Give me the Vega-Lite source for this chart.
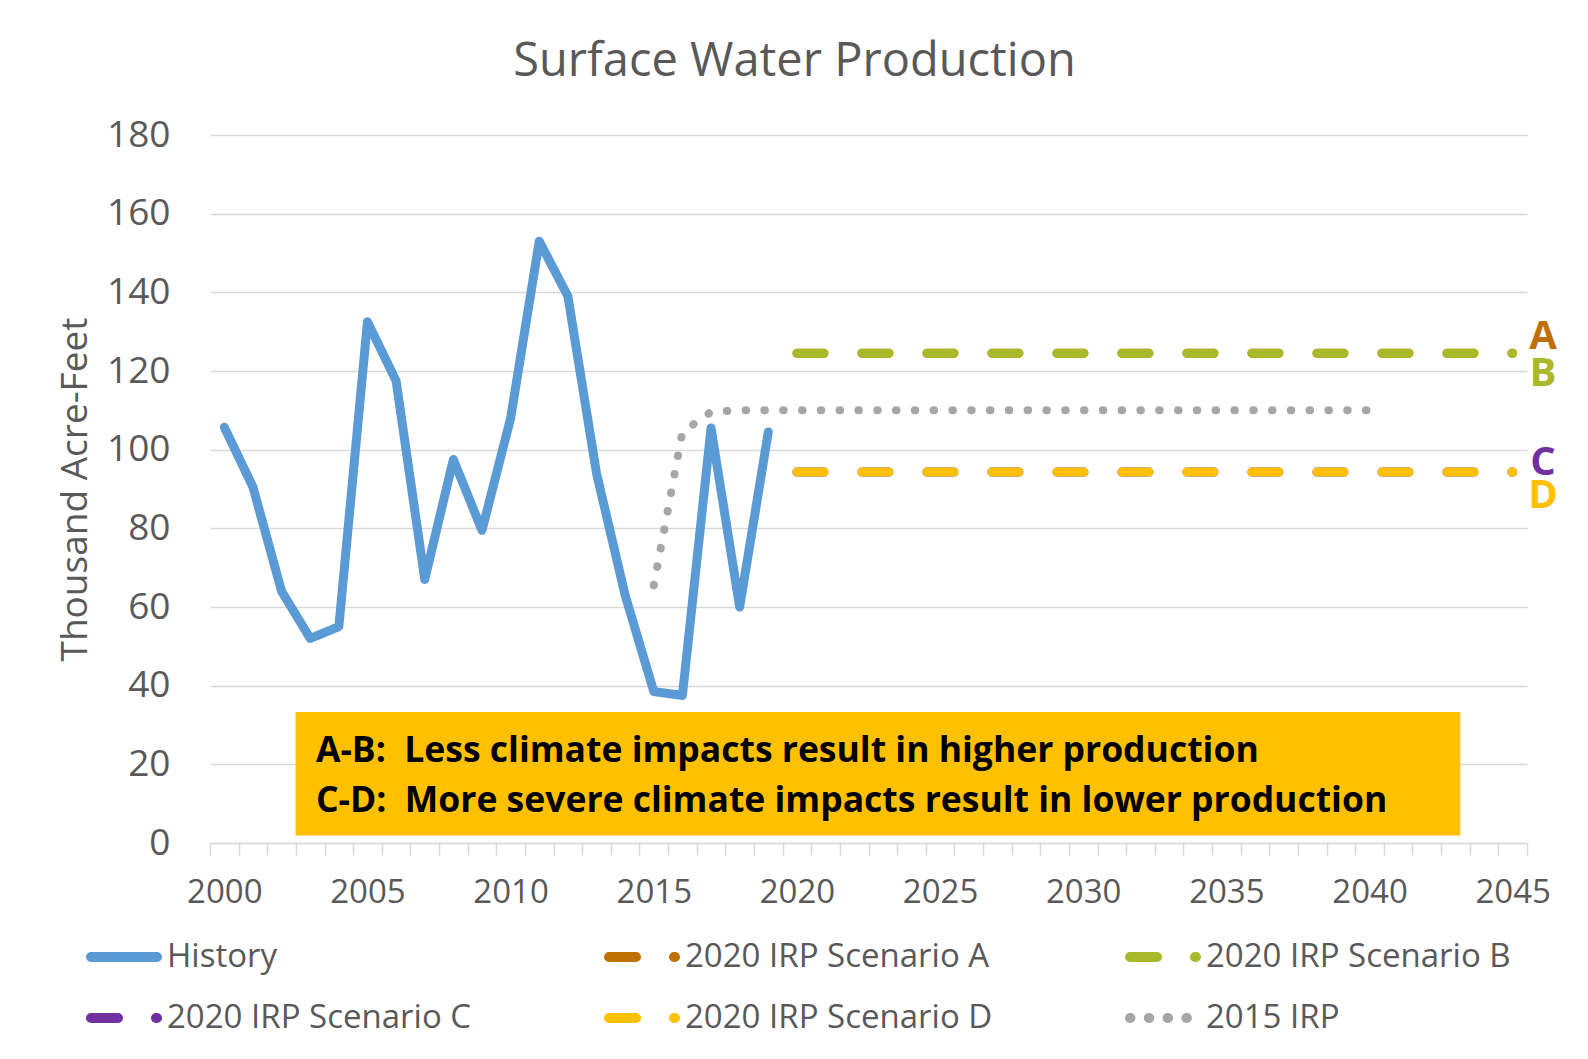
{
  "$schema": "https://vega.github.io/schema/vega-lite/v6.json",
  "width": 1317,
  "height": 708,
  "autosize": {"type": "none"},
  "padding": {"left": 210, "top": 135, "right": 61, "bottom": 216},
  "background": "#ffffff",
  "config": {"font": "Open Sans", "view": {"stroke": null}, "axisX": {"labelOverlap": false}},
  "title": {"text": "Surface Water Production", "fontSize": 47, "font": "Open Sans", "fontWeight": "normal", "color": "#595959", "anchor": "middle", "dx": -74, "offset": 30},
  "datasets": {
    "series": [
      {"series": "History", "year": 2000, "value": 105.7},
      {"series": "History", "year": 2001, "value": 90.5},
      {"series": "History", "year": 2002, "value": 64},
      {"series": "History", "year": 2003, "value": 52},
      {"series": "History", "year": 2004, "value": 55},
      {"series": "History", "year": 2005, "value": 132.5},
      {"series": "History", "year": 2006, "value": 117.5},
      {"series": "History", "year": 2007, "value": 67},
      {"series": "History", "year": 2008, "value": 97.5},
      {"series": "History", "year": 2009, "value": 79.5},
      {"series": "History", "year": 2010, "value": 108},
      {"series": "History", "year": 2011, "value": 153},
      {"series": "History", "year": 2012, "value": 139},
      {"series": "History", "year": 2013, "value": 94},
      {"series": "History", "year": 2014, "value": 63},
      {"series": "History", "year": 2015, "value": 38.5},
      {"series": "History", "year": 2016, "value": 37.5},
      {"series": "History", "year": 2017, "value": 105.5},
      {"series": "History", "year": 2018, "value": 60},
      {"series": "History", "year": 2019, "value": 104.5},
      {"series": "2020 IRP Scenario A", "year": 2020, "value": 124.5},
      {"series": "2020 IRP Scenario A", "year": 2021, "value": 124.5},
      {"series": "2020 IRP Scenario A", "year": 2022, "value": 124.5},
      {"series": "2020 IRP Scenario A", "year": 2023, "value": 124.5},
      {"series": "2020 IRP Scenario A", "year": 2024, "value": 124.5},
      {"series": "2020 IRP Scenario A", "year": 2025, "value": 124.5},
      {"series": "2020 IRP Scenario A", "year": 2026, "value": 124.5},
      {"series": "2020 IRP Scenario A", "year": 2027, "value": 124.5},
      {"series": "2020 IRP Scenario A", "year": 2028, "value": 124.5},
      {"series": "2020 IRP Scenario A", "year": 2029, "value": 124.5},
      {"series": "2020 IRP Scenario A", "year": 2030, "value": 124.5},
      {"series": "2020 IRP Scenario A", "year": 2031, "value": 124.5},
      {"series": "2020 IRP Scenario A", "year": 2032, "value": 124.5},
      {"series": "2020 IRP Scenario A", "year": 2033, "value": 124.5},
      {"series": "2020 IRP Scenario A", "year": 2034, "value": 124.5},
      {"series": "2020 IRP Scenario A", "year": 2035, "value": 124.5},
      {"series": "2020 IRP Scenario A", "year": 2036, "value": 124.5},
      {"series": "2020 IRP Scenario A", "year": 2037, "value": 124.5},
      {"series": "2020 IRP Scenario A", "year": 2038, "value": 124.5},
      {"series": "2020 IRP Scenario A", "year": 2039, "value": 124.5},
      {"series": "2020 IRP Scenario A", "year": 2040, "value": 124.5},
      {"series": "2020 IRP Scenario A", "year": 2041, "value": 124.5},
      {"series": "2020 IRP Scenario A", "year": 2042, "value": 124.5},
      {"series": "2020 IRP Scenario A", "year": 2043, "value": 124.5},
      {"series": "2020 IRP Scenario A", "year": 2044, "value": 124.5},
      {"series": "2020 IRP Scenario A", "year": 2045, "value": 124.5},
      {"series": "2020 IRP Scenario B", "year": 2020, "value": 124.5},
      {"series": "2020 IRP Scenario B", "year": 2021, "value": 124.5},
      {"series": "2020 IRP Scenario B", "year": 2022, "value": 124.5},
      {"series": "2020 IRP Scenario B", "year": 2023, "value": 124.5},
      {"series": "2020 IRP Scenario B", "year": 2024, "value": 124.5},
      {"series": "2020 IRP Scenario B", "year": 2025, "value": 124.5},
      {"series": "2020 IRP Scenario B", "year": 2026, "value": 124.5},
      {"series": "2020 IRP Scenario B", "year": 2027, "value": 124.5},
      {"series": "2020 IRP Scenario B", "year": 2028, "value": 124.5},
      {"series": "2020 IRP Scenario B", "year": 2029, "value": 124.5},
      {"series": "2020 IRP Scenario B", "year": 2030, "value": 124.5},
      {"series": "2020 IRP Scenario B", "year": 2031, "value": 124.5},
      {"series": "2020 IRP Scenario B", "year": 2032, "value": 124.5},
      {"series": "2020 IRP Scenario B", "year": 2033, "value": 124.5},
      {"series": "2020 IRP Scenario B", "year": 2034, "value": 124.5},
      {"series": "2020 IRP Scenario B", "year": 2035, "value": 124.5},
      {"series": "2020 IRP Scenario B", "year": 2036, "value": 124.5},
      {"series": "2020 IRP Scenario B", "year": 2037, "value": 124.5},
      {"series": "2020 IRP Scenario B", "year": 2038, "value": 124.5},
      {"series": "2020 IRP Scenario B", "year": 2039, "value": 124.5},
      {"series": "2020 IRP Scenario B", "year": 2040, "value": 124.5},
      {"series": "2020 IRP Scenario B", "year": 2041, "value": 124.5},
      {"series": "2020 IRP Scenario B", "year": 2042, "value": 124.5},
      {"series": "2020 IRP Scenario B", "year": 2043, "value": 124.5},
      {"series": "2020 IRP Scenario B", "year": 2044, "value": 124.5},
      {"series": "2020 IRP Scenario B", "year": 2045, "value": 124.5},
      {"series": "2020 IRP Scenario C", "year": 2020, "value": 94.3},
      {"series": "2020 IRP Scenario C", "year": 2021, "value": 94.3},
      {"series": "2020 IRP Scenario C", "year": 2022, "value": 94.3},
      {"series": "2020 IRP Scenario C", "year": 2023, "value": 94.3},
      {"series": "2020 IRP Scenario C", "year": 2024, "value": 94.3},
      {"series": "2020 IRP Scenario C", "year": 2025, "value": 94.3},
      {"series": "2020 IRP Scenario C", "year": 2026, "value": 94.3},
      {"series": "2020 IRP Scenario C", "year": 2027, "value": 94.3},
      {"series": "2020 IRP Scenario C", "year": 2028, "value": 94.3},
      {"series": "2020 IRP Scenario C", "year": 2029, "value": 94.3},
      {"series": "2020 IRP Scenario C", "year": 2030, "value": 94.3},
      {"series": "2020 IRP Scenario C", "year": 2031, "value": 94.3},
      {"series": "2020 IRP Scenario C", "year": 2032, "value": 94.3},
      {"series": "2020 IRP Scenario C", "year": 2033, "value": 94.3},
      {"series": "2020 IRP Scenario C", "year": 2034, "value": 94.3},
      {"series": "2020 IRP Scenario C", "year": 2035, "value": 94.3},
      {"series": "2020 IRP Scenario C", "year": 2036, "value": 94.3},
      {"series": "2020 IRP Scenario C", "year": 2037, "value": 94.3},
      {"series": "2020 IRP Scenario C", "year": 2038, "value": 94.3},
      {"series": "2020 IRP Scenario C", "year": 2039, "value": 94.3},
      {"series": "2020 IRP Scenario C", "year": 2040, "value": 94.3},
      {"series": "2020 IRP Scenario C", "year": 2041, "value": 94.3},
      {"series": "2020 IRP Scenario C", "year": 2042, "value": 94.3},
      {"series": "2020 IRP Scenario C", "year": 2043, "value": 94.3},
      {"series": "2020 IRP Scenario C", "year": 2044, "value": 94.3},
      {"series": "2020 IRP Scenario C", "year": 2045, "value": 94.3},
      {"series": "2020 IRP Scenario D", "year": 2020, "value": 94.3},
      {"series": "2020 IRP Scenario D", "year": 2021, "value": 94.3},
      {"series": "2020 IRP Scenario D", "year": 2022, "value": 94.3},
      {"series": "2020 IRP Scenario D", "year": 2023, "value": 94.3},
      {"series": "2020 IRP Scenario D", "year": 2024, "value": 94.3},
      {"series": "2020 IRP Scenario D", "year": 2025, "value": 94.3},
      {"series": "2020 IRP Scenario D", "year": 2026, "value": 94.3},
      {"series": "2020 IRP Scenario D", "year": 2027, "value": 94.3},
      {"series": "2020 IRP Scenario D", "year": 2028, "value": 94.3},
      {"series": "2020 IRP Scenario D", "year": 2029, "value": 94.3},
      {"series": "2020 IRP Scenario D", "year": 2030, "value": 94.3},
      {"series": "2020 IRP Scenario D", "year": 2031, "value": 94.3},
      {"series": "2020 IRP Scenario D", "year": 2032, "value": 94.3},
      {"series": "2020 IRP Scenario D", "year": 2033, "value": 94.3},
      {"series": "2020 IRP Scenario D", "year": 2034, "value": 94.3},
      {"series": "2020 IRP Scenario D", "year": 2035, "value": 94.3},
      {"series": "2020 IRP Scenario D", "year": 2036, "value": 94.3},
      {"series": "2020 IRP Scenario D", "year": 2037, "value": 94.3},
      {"series": "2020 IRP Scenario D", "year": 2038, "value": 94.3},
      {"series": "2020 IRP Scenario D", "year": 2039, "value": 94.3},
      {"series": "2020 IRP Scenario D", "year": 2040, "value": 94.3},
      {"series": "2020 IRP Scenario D", "year": 2041, "value": 94.3},
      {"series": "2020 IRP Scenario D", "year": 2042, "value": 94.3},
      {"series": "2020 IRP Scenario D", "year": 2043, "value": 94.3},
      {"series": "2020 IRP Scenario D", "year": 2044, "value": 94.3},
      {"series": "2020 IRP Scenario D", "year": 2045, "value": 94.3},
      {"series": "2015 IRP", "year": 2015, "value": 65.5},
      {"series": "2015 IRP", "year": 2016, "value": 104.5},
      {"series": "2015 IRP", "year": 2017, "value": 109.6},
      {"series": "2015 IRP", "year": 2018, "value": 110},
      {"series": "2015 IRP", "year": 2019, "value": 110},
      {"series": "2015 IRP", "year": 2020, "value": 110},
      {"series": "2015 IRP", "year": 2021, "value": 110},
      {"series": "2015 IRP", "year": 2022, "value": 110},
      {"series": "2015 IRP", "year": 2023, "value": 110},
      {"series": "2015 IRP", "year": 2024, "value": 110},
      {"series": "2015 IRP", "year": 2025, "value": 110},
      {"series": "2015 IRP", "year": 2026, "value": 110},
      {"series": "2015 IRP", "year": 2027, "value": 110},
      {"series": "2015 IRP", "year": 2028, "value": 110},
      {"series": "2015 IRP", "year": 2029, "value": 110},
      {"series": "2015 IRP", "year": 2030, "value": 110},
      {"series": "2015 IRP", "year": 2031, "value": 110},
      {"series": "2015 IRP", "year": 2032, "value": 110},
      {"series": "2015 IRP", "year": 2033, "value": 110},
      {"series": "2015 IRP", "year": 2034, "value": 110},
      {"series": "2015 IRP", "year": 2035, "value": 110},
      {"series": "2015 IRP", "year": 2036, "value": 110},
      {"series": "2015 IRP", "year": 2037, "value": 110},
      {"series": "2015 IRP", "year": 2038, "value": 110},
      {"series": "2015 IRP", "year": 2039, "value": 110},
      {"series": "2015 IRP", "year": 2040, "value": 110}
    ],
    "box": [{"year": 2002.49, "year2": 2043.17, "value": 1.9, "value2": 33.3}],
    "notes": [
      {"year": 2003.2, "value": 20.67, "text": "A-B: \u00a0Less climate impacts result in higher production"},
      {"year": 2003.2, "value": 7.96, "text": "C-D: \u00a0More severe climate impacts result in lower production"}
    ],
    "letters": [
      {"letter": "A", "series": "2020 IRP Scenario A", "year": 2046.06, "value": 125.5},
      {"letter": "B", "series": "2020 IRP Scenario B", "year": 2046.06, "value": 116.2},
      {"letter": "C", "series": "2020 IRP Scenario C", "year": 2046.06, "value": 93.6},
      {"letter": "D", "series": "2020 IRP Scenario D", "year": 2046.06, "value": 85.2}
    ]
  },
  "encoding": {
    "x": {
      "field": "year", "type": "quantitative",
      "scale": {"domain": [1999.5, 2045.5], "nice": false, "zero": false},
      "axis": {
        "title": null,
        "values": [1999.5, 2000.5, 2001.5, 2002.5, 2003.5, 2004.5, 2005.5, 2006.5, 2007.5, 2008.5, 2009.5, 2010.5, 2011.5, 2012.5, 2013.5, 2014.5, 2015.5, 2016.5, 2017.5, 2018.5, 2019.5, 2020.5, 2021.5, 2022.5, 2023.5, 2024.5, 2025.5, 2026.5, 2027.5, 2028.5, 2029.5, 2030.5, 2031.5, 2032.5, 2033.5, 2034.5, 2035.5, 2036.5, 2037.5, 2038.5, 2039.5, 2040.5, 2041.5, 2042.5, 2043.5, 2044.5, 2045.5],
        "labelExpr": "(datum.value + 0.5) % 5 === 0 ? toString(datum.value + 0.5) : ''",
        "labelOffset": 14.3,
        "labelFlush": false,
        "labelOverlap": false,
        "labelBound": false,
        "labelFont": "Open Sans",
        "labelFontSize": 33,
        "labelColor": "#595959",
        "labelPadding": 21,
        "grid": false,
        "domainColor": "#D9D9D9",
        "domainWidth": 1.5,
        "tickColor": "#D9D9D9",
        "tickWidth": 1.5,
        "tickSize": 12
      }
    },
    "y": {
      "field": "value", "type": "quantitative",
      "scale": {"domain": [0, 180], "nice": false},
      "axis": {
        "title": "Thousand Acre-Feet",
        "titleFont": "Open Sans",
        "titleFontSize": 37,
        "titleFontWeight": "normal",
        "titleColor": "#595959",
        "titlePadding": 12,
        "values": [0, 20, 40, 60, 80, 100, 120, 140, 160, 180],
        "domain": false,
        "ticks": false,
        "grid": true,
        "gridColor": "#D9D9D9",
        "gridWidth": 1.5,
        "labelFont": "Open Sans",
        "labelFontSize": 37,
        "labelColor": "#595959",
        "labelPadding": 40
      }
    }
  },
  "layer": [
    {
      "data": {"name": "series"},
      "encoding": {
        "color": {
          "field": "series", "type": "nominal",
          "scale": {
            "domain": ["History", "2020 IRP Scenario A", "2020 IRP Scenario B", "2020 IRP Scenario C", "2020 IRP Scenario D", "2015 IRP"],
            "range": ["#5B9BD5", "#BF7000", "#A9B92A", "#7030A0", "#FFC000", "#A6A6A6"]
          },
          "legend": {
            "title": null,
            "orient": "none",
            "legendX": -124,
            "legendY": 784,
            "direction": "horizontal",
            "columns": 3,
            "padding": 0,
            "symbolType": "stroke",
            "symbolSize": 4356,
            "symbolStrokeWidth": 10,
            "labelFont": "Open Sans",
            "labelFontSize": 33,
            "labelColor": "#595959",
            "labelOffset": 5,
            "labelLimit": 500,
            "columnPadding": 117,
            "rowPadding": 3,
            "encode": {"symbols": {"update": {"strokeCap": {"value": "round"}}}}
          }
        },
        "strokeDash": {
          "field": "series", "type": "nominal",
          "scale": {
            "domain": ["History", "2020 IRP Scenario A", "2020 IRP Scenario B", "2020 IRP Scenario C", "2020 IRP Scenario D", "2015 IRP"],
            "range": [[1, 0], [27, 38], [27, 38], [27, 38], [27, 38], [0.5, 18.3]]
          }
        }
      },
      "layer": [
        {"transform": [{"filter": "datum.series === 'History'"}], "mark": {"type": "line", "strokeWidth": 9, "strokeCap": "round", "strokeJoin": "round"}},
        {"transform": [{"filter": "datum.series === '2020 IRP Scenario A'"}], "mark": {"type": "line", "strokeWidth": 9, "strokeCap": "round"}},
        {"transform": [{"filter": "datum.series === '2020 IRP Scenario B'"}], "mark": {"type": "line", "strokeWidth": 9, "strokeCap": "round"}},
        {"transform": [{"filter": "datum.series === '2020 IRP Scenario C'"}], "mark": {"type": "line", "strokeWidth": 9, "strokeCap": "round"}},
        {"transform": [{"filter": "datum.series === '2020 IRP Scenario D'"}], "mark": {"type": "line", "strokeWidth": 9, "strokeCap": "round"}},
        {"transform": [{"filter": "datum.series === '2015 IRP'"}], "mark": {"type": "line", "strokeWidth": 8, "strokeCap": "round"}}
      ]
    },
    {
      "data": {"name": "box"},
      "mark": {"type": "rect", "color": "#FFC000"},
      "encoding": {
        "x2": {"field": "year2"},
        "y2": {"field": "value2"}
      }
    },
    {
      "data": {"name": "notes"},
      "mark": {"type": "text", "align": "left", "baseline": "alphabetic", "font": "Open Sans", "fontWeight": "bold", "fontSize": 35.5, "color": "#000000"},
      "encoding": {
        "text": {"field": "text"}
      }
    },
    {
      "data": {"name": "letters"},
      "mark": {"type": "text", "align": "center", "baseline": "alphabetic", "font": "Open Sans", "fontWeight": "bold", "fontSize": 40},
      "encoding": {
        "text": {"field": "letter"},
        "color": {"field": "series", "type": "nominal", "legend": null}
      }
    }
  ]
}
